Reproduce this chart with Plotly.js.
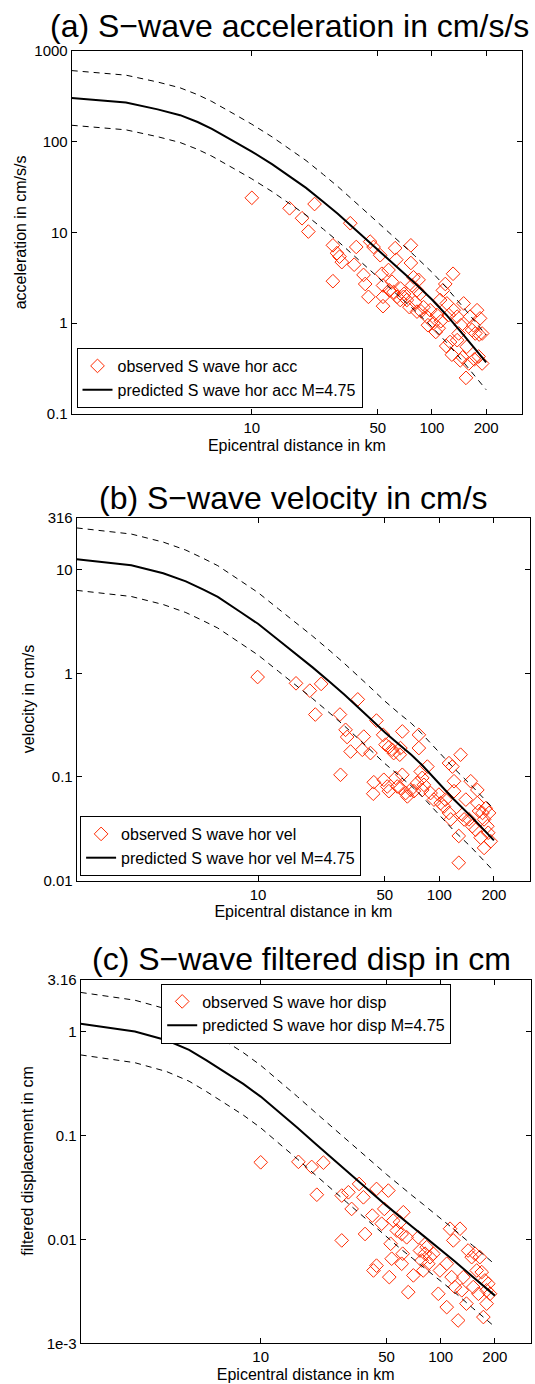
<!DOCTYPE html>
<html>
<head>
<meta charset="utf-8">
<script src="https://cdn.plot.ly/plotly-3.0.1.min.js"></script>
<style>
  html, body { margin: 0; padding: 0; background: #ffffff; }
  #chart { width: 535px; height: 1384px; }
</style>
</head>
<body>
<div id="chart"></div>
<script>
// ---------- data ----------
const distKm = [1, 2, 3, 4, 5, 6, 8, 10, 13, 16, 20, 25, 30, 40, 50, 60, 70, 80, 100, 120, 150, 200];

const accPred  = [302, 269, 226, 195, 164, 138, 100, 77.6, 56, 42.4, 30.9, 21.6, 16.0, 9.6, 6.46, 4.7, 3.56, 2.78, 1.82, 1.24, 0.74, 0.37];
const accUpper = [604, 538, 452, 390, 328, 276, 200, 155, 112, 84.8, 61.8, 43.2, 32, 19.2, 12.9, 9.4, 7.1, 5.56, 3.64, 2.48, 1.48, 0.74];
const accLower = [151, 134.5, 113, 97.5, 82, 69, 50, 38.8, 28, 21.2, 15.5, 10.8, 8.0, 4.8, 3.23, 2.35, 1.78, 1.39, 0.91, 0.62, 0.37, 0.185];

const velPred  = [12.6, 11.0, 9.2, 7.7, 6.4, 5.46, 3.9, 3.0, 2.08, 1.56, 1.14, 0.82, 0.62, 0.39, 0.27, 0.206, 0.164, 0.131, 0.0865, 0.061, 0.0415, 0.0245];
const velUpper = [25.2, 22, 18.4, 15.4, 12.8, 10.9, 7.8, 6.0, 4.16, 3.12, 2.28, 1.64, 1.24, 0.78, 0.54, 0.41, 0.33, 0.262, 0.173, 0.122, 0.083, 0.049];
const velLower = [6.3, 5.5, 4.6, 3.85, 3.2, 2.73, 1.95, 1.5, 1.04, 0.78, 0.57, 0.41, 0.31, 0.195, 0.135, 0.103, 0.082, 0.0655, 0.043, 0.0305, 0.021, 0.0123];

const dispPred  = [1.20, 1.01, 0.83, 0.67, 0.532, 0.436, 0.316, 0.238, 0.163, 0.119, 0.0845, 0.060, 0.0457, 0.0297, 0.0212, 0.0162, 0.0131, 0.0109, 0.00798, 0.00615, 0.0044, 0.00288];
const dispUpper = [2.4, 2.02, 1.66, 1.34, 1.064, 0.872, 0.632, 0.476, 0.326, 0.238, 0.169, 0.12, 0.0914, 0.0594, 0.0424, 0.0324, 0.0262, 0.0218, 0.016, 0.0123, 0.0088, 0.00576];
const dispLower = [0.6, 0.505, 0.415, 0.335, 0.266, 0.218, 0.158, 0.119, 0.0815, 0.0595, 0.0423, 0.03, 0.0229, 0.0149, 0.0106, 0.0081, 0.00655, 0.00545, 0.004, 0.00308, 0.0022, 0.00144];

const accObsX = [10, 16.2, 19, 20.6, 22.3, 28.2, 28.2, 29.7, 30.7, 31.6, 35.2, 38, 37, 41.7, 42.6, 44.4, 45.4, 47.4, 51.6, 52.7, 53.5, 53.5, 53.5, 57.4, 60, 62.5, 63.4, 61.2, 64, 66.7, 69.6, 72.6, 76.4, 76.4, 79, 84.3, 77.5, 82.6, 86, 80.7, 82.6, 89.8, 93.8, 97.8, 102, 106.6, 109, 111, 115, 118.6, 121, 131, 124, 132, 129, 138, 138, 140.6, 143.6, 150, 154.5, 156, 160, 163, 167, 170, 174, 178, 181.6, 185, 190, 190, 58, 67, 70, 75, 87, 95, 105, 112, 120, 126, 145, 148, 172, 183];
const accObsY = [24, 18.4, 14.3, 10.2, 20.5, 7.2, 2.9, 5.9, 5.4, 4.7, 12.6, 6.9, 4.4, 3.4, 2.7, 1.95, 7.9, 6.9, 5.6, 3.5, 2.6, 1.95, 1.54, 3.85, 2.86, 6.7, 5.0, 2.2, 1.95, 1.8, 1.95, 1.8, 7.2, 4.6, 3.2, 3.0, 2.6, 2.3, 2.1, 1.7, 1.34, 1.5, 1.18, 1.39, 1.0, 1.23, 0.88, 1.8, 2.3, 2.7, 1.65, 3.5, 1.23, 1.39, 0.45, 1.18, 0.65, 0.77, 0.39, 1.65, 0.25, 0.55, 0.36, 1.18, 0.84, 0.95, 0.77, 1.39, 0.43, 1.13, 0.36, 0.77, 2.3, 2.4, 2.1, 1.5, 1.35, 0.95, 0.8, 1.05, 0.56, 0.62, 0.95, 0.42, 0.4, 0.75];

const velObsX = [9.95, 16.2, 19.3, 22.3, 20.7, 28.3, 35.5, 28.5, 30.4, 31, 32.4, 38.3, 37.6, 41.7, 45, 49, 50.5, 52.7, 55, 56, 62.5, 61, 60.5, 43.5, 43.2, 49.4, 51.6, 52.7, 57.4, 58.6, 61, 62.5, 65.2, 66.6, 69.4, 72.4, 77.1, 77.1, 78.9, 80.5, 75.5, 82.2, 85.9, 80.5, 89.5, 93.4, 99.5, 101.7, 106, 108, 113, 118, 113, 115.5, 120.5, 120.5, 128, 131, 128, 134, 137, 140, 145.6, 149, 152, 158.6, 162, 162, 165.5, 169, 173, 176.5, 180, 176.5, 184, 188, 192, 186];
const velObsY = [0.92, 0.80, 0.68, 0.79, 0.40, 0.40, 0.56, 0.105, 0.285, 0.243, 0.176, 0.245, 0.183, 0.17, 0.35, 0.255, 0.205, 0.194, 0.183, 0.17, 0.275, 0.19, 0.164, 0.089, 0.069, 0.094, 0.081, 0.073, 0.098, 0.081, 0.078, 0.105, 0.070, 0.065, 0.075, 0.073, 0.255, 0.19, 0.113, 0.098, 0.0875, 0.084, 0.126, 0.075, 0.070, 0.0605, 0.0676, 0.056, 0.052, 0.0605, 0.136, 0.126, 0.045, 0.039, 0.091, 0.073, 0.027, 0.164, 0.0149, 0.0434, 0.039, 0.0605, 0.039, 0.091, 0.0335, 0.031, 0.075, 0.056, 0.047, 0.026, 0.045, 0.039, 0.050, 0.0207, 0.0335, 0.045, 0.024, 0.029];

const dispObsX = [10, 16.2, 19.2, 22.3, 20.5, 28.2, 28.2, 30.7, 32, 35.2, 37.2, 38, 41.7, 44, 42.3, 44, 47, 48.6, 51.2, 51.8, 52.7, 53.4, 54.5, 57, 59.4, 60.7, 62, 60.7, 61.5, 64.7, 66, 70.5, 75.1, 76.7, 78.4, 80, 81.8, 83.6, 85.3, 87.2, 91, 97, 99, 108, 108, 112.7, 117.5, 128, 115, 120, 125, 131, 133.6, 139, 142, 148.6, 151.7, 155, 158.5, 162, 165, 169, 172.6, 176, 180, 183.8, 180, 188];
const dispObsY = [0.0554, 0.056, 0.050, 0.055, 0.027, 0.0265, 0.0098, 0.0285, 0.0197, 0.0343, 0.0255, 0.0113, 0.017, 0.0307, 0.00503, 0.0056, 0.0142, 0.0197, 0.0296, 0.00434, 0.0091, 0.00653, 0.0152, 0.0122, 0.0147, 0.0113, 0.0183, 0.00584, 0.0073, 0.0105, 0.00311, 0.00451, 0.0105, 0.00783, 0.00628, 0.00503, 0.0073, 0.00843, 0.00584, 0.00676, 0.0073, 0.003, 0.00503, 0.00223, 0.00584, 0.0127, 0.0098, 0.0127, 0.00434, 0.00348, 0.00166, 0.00324, 0.00434, 0.00241, 0.00783, 0.00676, 0.00348, 0.0073, 0.00503, 0.003, 0.00676, 0.00485, 0.00179, 0.00403, 0.00241, 0.00375, 0.00324, 0.003];

const xTickVals = [10, 50, 100, 200];
const xTickText = ['10', '50', '100', '200'];
const accTickVals = [0.1, 1, 10, 100, 1000];
const accTickText = ['0.1', '1', '10', '100', '1000'];
const velTickVals = [0.01, 0.1, 1, 10, 31.6];
const velTickText = ['0.01', '0.1', '1', '10', '316'];
const dispTickVals = [0.001, 0.01, 0.1, 1, 3.16];
const dispTickText = ['1e-3', '0.01', '0.1', '1', '3.16'];

const titles = ['(a) S\u2212wave acceleration in cm/s/s', '(b) S\u2212wave velocity in cm/s', '(c) S\u2212wave filtered disp in cm'];
const yTitles = ['acceleration in cm/s/s', 'velocity in cm/s', 'filtered displacement in cm'];
const xTitle = 'Epicentral distance in km';
const obsNames = ['observed S wave hor acc', 'observed S wave hor vel', 'observed S wave hor disp'];
const predNames = ['predicted S wave hor acc M=4.75', 'predicted S wave hor vel M=4.75', 'predicted S wave hor disp M=4.75'];

// ---------- styling ----------
const W = 535, H = 1384;
const FONT = 'Liberation Sans, Arial, Helvetica, sans-serif';
const RED = '#ff2a00';

function px2x(p) { return p / W; }
function py2y(p) { return 1 - p / H; }

const panels = [
  {pred: accPred, up: accUpper, lo: accLower, ox: accObsX, oy: accObsY, tv: accTickVals, tt: accTickText, yr: [-1, 3],
   xd: [71.7, 522], yd: [50.7, 414], leg: [76.5, 348], title: [289.5, 26.3], ytx: 20},
  {pred: velPred, up: velUpper, lo: velLower, ox: velObsX, oy: velObsY, tv: velTickVals, tt: velTickText, yr: [-2, 1.5],
   xd: [76.7, 530], yd: [517.7, 880.7], leg: [80.1, 816], title: [293.5, 498], ytx: 28},
  {pred: dispPred, up: dispUpper, lo: dispLower, ox: dispObsX, oy: dispObsY, tv: dispTickVals, tt: dispTickText, yr: [-3, 0.5],
   xd: [80.7, 530.7], yd: [980, 1343.3], leg: [161.2, 983.5], title: [301, 959], ytx: 28}
];

const traces = [];
const layout = {
  width: W, height: H,
  margin: {l: 0, r: 0, t: 0, b: 0},
  paper_bgcolor: '#ffffff', plot_bgcolor: '#ffffff',
  font: {family: FONT, color: '#000000', size: 15},
  annotations: []
};

panels.forEach((p, i) => {
  const n = i === 0 ? '' : String(i + 1);
  const xa = 'x' + n, ya = 'y' + n;
  const legName = 'legend' + n;

  traces.push({
    x: p.ox, y: p.oy, xaxis: xa, yaxis: ya, type: 'scatter', mode: 'markers',
    name: obsNames[i], legend: legName,
    marker: {symbol: 'diamond-open', size: 10.5, color: RED, line: {color: RED, width: 1}}
  });
  traces.push({
    x: distKm, y: p.pred, xaxis: xa, yaxis: ya, type: 'scatter', mode: 'lines',
    name: predNames[i], legend: legName,
    line: {color: '#000000', width: 2}
  });
  traces.push({
    x: distKm, y: p.up, xaxis: xa, yaxis: ya, type: 'scatter', mode: 'lines', showlegend: false,
    line: {color: '#000000', width: 1, dash: '6px,5px'}
  });
  traces.push({
    x: distKm, y: p.lo, xaxis: xa, yaxis: ya, type: 'scatter', mode: 'lines', showlegend: false,
    line: {color: '#000000', width: 1, dash: '6px,5px'}
  });

  const common = {
    showline: true, linecolor: '#000000', linewidth: 1, mirror: 'allticks',
    ticks: 'inside', ticklen: 5, tickwidth: 1, tickcolor: '#000000',
    showgrid: false, zeroline: false, type: 'log',
    tickfont: {family: FONT, size: 15, color: '#000000'}
  };

  layout['xaxis' + n] = Object.assign({}, common, {
    domain: [px2x(p.xd[0]), px2x(p.xd[1])], range: [0, 2.5], anchor: ya,
    tickvals: xTickVals, ticktext: xTickText,
    title: {text: xTitle, font: {family: FONT, size: 16, color: '#000000'}, standoff: 4}
  });
  layout['yaxis' + n] = Object.assign({}, common, {
    domain: [py2y(p.yd[1]), py2y(p.yd[0])], range: p.yr, anchor: xa,
    tickvals: p.tv, ticktext: p.tt
  });

  layout[legName] = {
    x: px2x(p.leg[0]), y: py2y(p.leg[1]), xanchor: 'left', yanchor: 'top',
    bgcolor: '#ffffff', bordercolor: '#000000', borderwidth: 1,
    font: {family: FONT, size: 16, color: '#000000'}, traceorder: 'normal'
  };

  layout.annotations.push({
    text: titles[i], xref: 'paper', yref: 'paper', x: px2x(p.title[0]), y: py2y(p.title[1]),
    xanchor: 'center', yanchor: 'middle', showarrow: false,
    font: {family: FONT, size: 32, color: '#000000'}
  });
  layout.annotations.push({
    text: yTitles[i], xref: 'paper', yref: 'paper', x: px2x(p.ytx), y: py2y((p.yd[0] + p.yd[1]) / 2),
    xanchor: 'center', yanchor: 'middle', showarrow: false, textangle: -90,
    font: {family: FONT, size: 16, color: '#000000'}
  });
});

Plotly.newPlot('chart', traces, layout, {displayModeBar: false, staticPlot: true});
</script>
</body>
</html>
